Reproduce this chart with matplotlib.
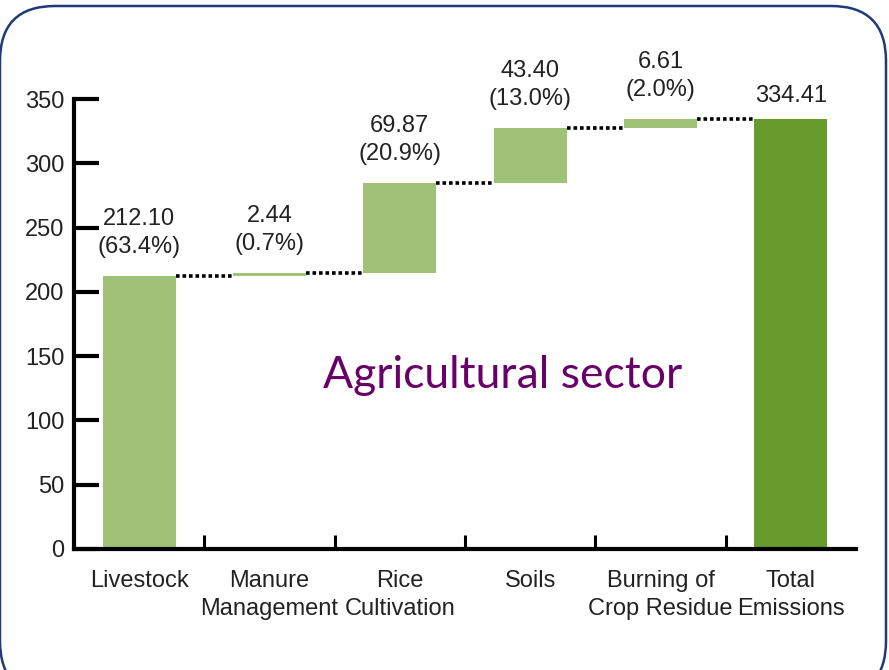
import matplotlib
matplotlib.use('Agg')
import matplotlib.pyplot as plt
from matplotlib.patches import FancyBboxPatch
import numpy as np

# data
categories = ['Livestock', 'Manure\nManagement', 'Rice\nCultivation', 'Soils',
              'Burning of\nCrop Residue', 'Total\nEmissions']
values = [212.10, 2.44, 69.87, 43.40, 6.61]
shares = ['63.4%', '0.7%', '20.9%', '13.0%', '2.0%']
total = 334.41

light = '#a0c178'
dark = '#689b2e'

plt.rcParams['font.family'] = ['Liberation Sans', 'DejaVu Sans']

fig = plt.figure(figsize=(8.89, 6.70), dpi=100)

# rounded frame behind everything, in pixel units
bg = fig.add_axes([0, 0, 1, 1], zorder=-1)
bg.set_xlim(0, 889)
bg.set_ylim(670, 0)
bg.axis('off')
bg.add_patch(FancyBboxPatch((0, 6), 886, 690, boxstyle='round,pad=0,rounding_size=55',
                            fc='white', ec='#1f3a7a', lw=1.8))

ax = fig.add_axes([0.0832, 0.1806, 0.8798, 0.6714])
ax.patch.set_alpha(0)

x = np.arange(len(categories))
bottoms = np.concatenate([[0], np.cumsum(values)[:-1]])
tops = bottoms + np.array(values)
w = 0.56

ax.bar(x[:-1], values, bottom=bottoms, width=w, color=light, zorder=2)
ax.bar(x[-1], total, width=w, color=dark, zorder=2)

# dotted connectors
levels = list(tops)
for i in range(len(values)):
    ax.plot([x[i] + w / 2, x[i + 1] - w / 2], [levels[i], levels[i]],
            color='black', ls=(0, (1, 0.8)), lw=2.6, zorder=3, clip_on=False)

for i in range(len(values)):
    ax.annotate('%.2f\n(%s)' % (values[i], shares[i]), (x[i], tops[i]),
                xytext=(0, 13), textcoords='offset points', ha='center', va='bottom',
                fontsize=17, color='#222222', linespacing=1.35, annotation_clip=False)
ax.annotate('%.2f' % total, (x[-1], total), xytext=(0, 9), textcoords='offset points',
            ha='center', va='bottom', fontsize=17, color='#222222', annotation_clip=False)

ax.text(2.79, 135, 'Agricultural sector', color='#690069', fontsize=32,
        family=['Lato', 'DejaVu Sans'], ha='center', va='center')

ax.set_xlim(-0.5, 5.5)
ax.set_ylim(0, 350)
ax.set_yticks([0, 50, 100, 150, 200, 250, 300, 350])
ax.tick_params(axis='y', direction='in', length=18, width=3, labelsize=17,
               pad=7, labelcolor='#222222')
ax.set_xticks(x)
ax.set_xticklabels(categories, fontsize=17, color='#222222', linespacing=1.35)
ax.tick_params(axis='x', length=0, pad=15)
ax.set_xticks(np.arange(0.5, 5.5, 1), minor=True)
ax.tick_params(axis='x', which='minor', direction='in', length=10, width=2.2)

for s in ['top', 'right']:
    ax.spines[s].set_visible(False)
ax.spines['left'].set_linewidth(3)
ax.spines['bottom'].set_linewidth(3)

fig.savefig('out.png', dpi=100)
